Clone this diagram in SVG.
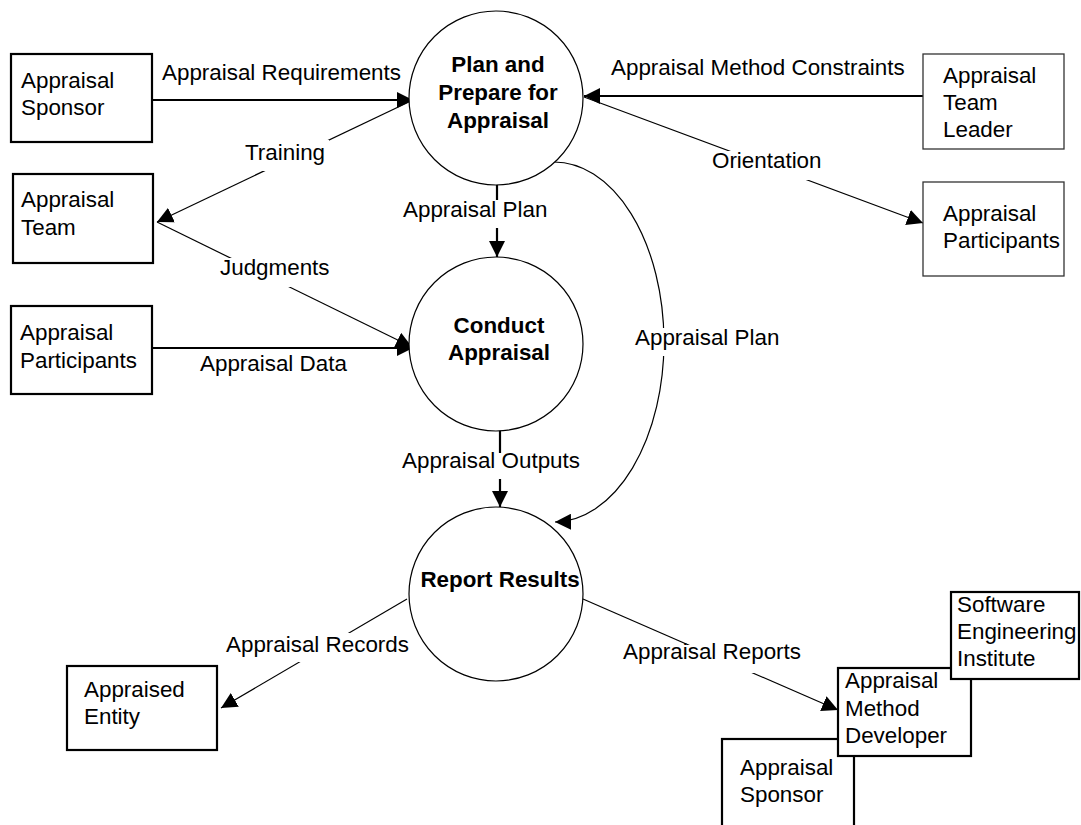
<svg xmlns="http://www.w3.org/2000/svg" width="1081" height="825" viewBox="0 0 1081 825">
<style>
text{font-family:"Liberation Sans",Arial,sans-serif;font-size:22.4px;fill:#000}
.b{font-weight:bold;text-anchor:middle}
.box{fill:#fff;stroke:#000;stroke-width:2.2}
.box2{fill:#fff;stroke:#333;stroke-width:1.3}
.circ{fill:#fff;stroke:#000;stroke-width:1.2}
.thick{fill:none;stroke:#000;stroke-width:2.2}
.thin{fill:none;stroke:#000;stroke-width:1.2}
.bg{fill:#fff}
</style>
<defs>
<marker id="ah" markerUnits="userSpaceOnUse" markerWidth="17" markerHeight="16" refX="16" refY="8" orient="auto" viewBox="0 0 17 16">
<path d="M0,0 L16,8 L0,16 z" fill="#000"/>
</marker>
</defs>
<rect width="1081" height="825" fill="#fff"/>
<g id="connectors">
<line class="thick" x1="152" y1="100" x2="413" y2="100" marker-end="url(#ah)"/>
<line class="thick" x1="923" y1="96" x2="584" y2="96" marker-end="url(#ah)"/>
<line class="thin" x1="584" y1="97" x2="923" y2="223" marker-end="url(#ah)"/>
<line class="thin" x1="413" y1="100" x2="157" y2="222" marker-end="url(#ah)"/>
<line class="thin" x1="157" y1="222" x2="412" y2="347" marker-end="url(#ah)"/>
<line class="thick" x1="152" y1="348" x2="413" y2="348" marker-end="url(#ah)"/>
<line class="thick" x1="497" y1="184" x2="497" y2="257" marker-end="url(#ah)"/>
<line class="thick" x1="500" y1="430" x2="500" y2="507" marker-end="url(#ah)"/>
<path class="thin" d="M553,162 A110,180 0 0 1 555,522" marker-end="url(#ah)"/>
<line class="thin" x1="407" y1="599" x2="221" y2="708" marker-end="url(#ah)"/>
<line class="thin" x1="583" y1="599" x2="838" y2="710" marker-end="url(#ah)"/>
<rect class="bg" x="243" y="140" width="86" height="31"/>
<rect class="bg" x="710" y="151" width="114" height="29"/>
<rect class="bg" x="401" y="200" width="150" height="28"/>
<rect class="bg" x="218" y="258" width="115" height="29"/>
<rect class="bg" x="633" y="328" width="150" height="28"/>
<rect class="bg" x="400" y="453" width="184" height="26"/>
<rect class="bg" x="224" y="633" width="190" height="29"/>
<rect class="bg" x="621" y="645" width="184" height="28"/>
<text x="162" y="80">Appraisal Requirements</text>
<text x="611" y="75">Appraisal Method Constraints</text>
<text x="245" y="160">Training</text>
<text x="712" y="168">Orientation</text>
<text x="403" y="217">Appraisal Plan</text>
<text x="220" y="275">Judgments</text>
<text x="200" y="371">Appraisal Data</text>
<text x="635" y="345">Appraisal Plan</text>
<text x="402" y="468">Appraisal Outputs</text>
<text x="226" y="652">Appraisal Records</text>
<text x="623" y="659">Appraisal Reports</text>
</g>
<g id="plan">
<circle class="circ" cx="496" cy="98" r="87"/>
<text class="b" x="498" y="72">Plan and</text>
<text class="b" x="498" y="100">Prepare for</text>
<text class="b" x="498" y="128">Appraisal</text>
</g>
<g id="conduct">
<circle class="circ" cx="496" cy="344" r="87"/>
<text class="b" x="499" y="333">Conduct</text>
<text class="b" x="499" y="360">Appraisal</text>
</g>
<g id="report">
<circle class="circ" cx="496" cy="594" r="87"/>
<text class="b" x="500" y="587">Report Results</text>
</g>
<g id="sponsor-top">
<rect class="box" x="11" y="54" width="141" height="88"/>
<text x="21" y="88">Appraisal</text>
<text x="21" y="115">Sponsor</text>
</g>
<g id="team">
<rect class="box" x="13" y="174" width="140" height="89"/>
<text x="21" y="207">Appraisal</text>
<text x="21" y="235">Team</text>
</g>
<g id="participants-left">
<rect class="box" x="11" y="306" width="141" height="88"/>
<text x="20" y="340">Appraisal</text>
<text x="20" y="368">Participants</text>
</g>
<g id="team-leader">
<rect class="box2" x="923" y="54" width="141" height="95"/>
<text x="943" y="83">Appraisal</text>
<text x="943" y="110">Team</text>
<text x="943" y="137">Leader</text>
</g>
<g id="participants-right">
<rect class="box2" x="923" y="182" width="141" height="94"/>
<text x="943" y="221">Appraisal</text>
<text x="943" y="248">Participants</text>
</g>
<g id="appraised-entity">
<rect class="box" x="67" y="666" width="150" height="84"/>
<text x="84" y="697">Appraised</text>
<text x="84" y="724">Entity</text>
</g>
<g id="sponsor-bottom">
<rect class="box" x="722" y="739" width="132" height="100"/>
<text x="740" y="775">Appraisal</text>
<text x="740" y="802">Sponsor</text>
</g>
<g id="method-developer">
<rect class="box" x="838" y="668" width="133" height="88"/>
<text x="845" y="688">Appraisal</text>
<text x="845" y="716">Method</text>
<text x="845" y="743">Developer</text>
</g>
<g id="sei">
<rect class="box" x="951" y="592" width="128" height="87"/>
<text x="957" y="612">Software</text>
<text x="957" y="639">Engineering</text>
<text x="957" y="666">Institute</text>
</g>
</svg>
